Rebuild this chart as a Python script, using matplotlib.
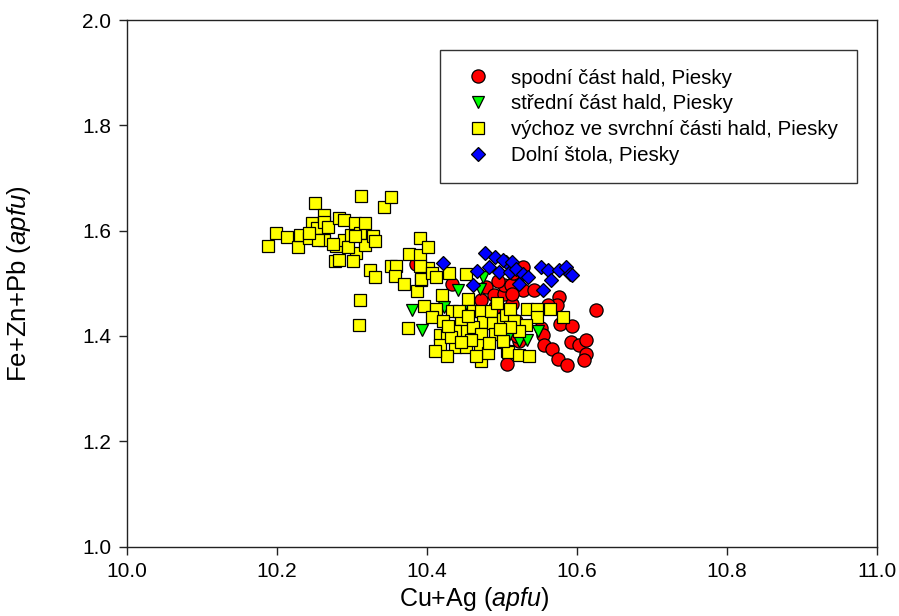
import numpy as np
import matplotlib
matplotlib.use('Agg')
import matplotlib.pyplot as plt

plt.rcParams['font.family'] = ['Liberation Sans', 'DejaVu Sans']
plt.rcParams['mathtext.fontset'] = 'custom'
plt.rcParams['mathtext.rm'] = 'Liberation Sans'
plt.rcParams['mathtext.it'] = 'Liberation Sans:italic'

# spodní část hald (red circles)
red_x = [10.386, 10.434, 10.479, 10.472, 10.489, 10.502, 10.503, 10.507,
         10.528, 10.512, 10.514, 10.528, 10.543, 10.576, 10.573, 10.561,
         10.626, 10.578, 10.593, 10.552, 10.554, 10.556, 10.567, 10.592,
         10.603, 10.612, 10.612, 10.609, 10.574, 10.587, 10.519, 10.523,
         10.495, 10.515, 10.490, 10.514, 10.520]
red_y = [1.536, 1.499, 1.493, 1.468, 1.477, 1.480, 1.496, 1.347,
         1.531, 1.496, 1.461, 1.487, 1.487, 1.473, 1.458, 1.458,
         1.450, 1.423, 1.418, 1.415, 1.401, 1.382, 1.375, 1.388,
         1.382, 1.393, 1.366, 1.354, 1.356, 1.345, 1.429, 1.391,
         1.505, 1.520, 1.455, 1.480, 1.400]

# střední část hald (green triangles)
green_x = [10.380, 10.393, 10.441, 10.423, 10.454, 10.474, 10.472, 10.508,
           10.523, 10.533, 10.548, 10.470]
green_y = [1.450, 1.412, 1.487, 1.455, 1.455, 1.511, 1.415, 1.397,
           1.391, 1.393, 1.410, 1.490]

# výchoz ve svrchní části hald (yellow squares)
yel_x = [10.188, 10.199, 10.213, 10.228, 10.231, 10.242, 10.250, 10.247,
         10.253, 10.263, 10.262, 10.263, 10.268, 10.282, 10.289, 10.279,
         10.277, 10.282, 10.290, 10.298, 10.304, 10.305, 10.301, 10.312,
         10.310, 10.317, 10.317, 10.328, 10.331, 10.324, 10.331, 10.310,
         10.309, 10.343, 10.352, 10.255, 10.275, 10.295, 10.242, 10.304,
         10.352, 10.359, 10.357, 10.369, 10.387, 10.392, 10.376, 10.391,
         10.391, 10.401, 10.401, 10.396, 10.375, 10.391, 10.392, 10.406,
         10.412, 10.430, 10.452,
         10.412, 10.420, 10.434, 10.406, 10.421, 10.417, 10.426, 10.417,
         10.437, 10.426, 10.445, 10.448, 10.437, 10.455, 10.462, 10.472,
         10.474, 10.461, 10.472, 10.452, 10.470, 10.472, 10.485, 10.488,
         10.490, 10.501, 10.501, 10.507, 10.410, 10.432,
         10.505, 10.510, 10.516, 10.533, 10.547, 10.564, 10.547, 10.532,
         10.523, 10.581, 10.510, 10.508, 10.522, 10.536, 10.501,
         10.443, 10.458, 10.481, 10.493, 10.455, 10.428, 10.465, 10.497,
         10.483, 10.446]
yel_y = [1.571, 1.595, 1.587, 1.568, 1.591, 1.586, 1.652, 1.614,
         1.604, 1.630, 1.617, 1.583, 1.607, 1.623, 1.620, 1.571,
         1.543, 1.545, 1.582, 1.592, 1.615, 1.557, 1.543, 1.666,
         1.595, 1.614, 1.572, 1.590, 1.581, 1.525, 1.512, 1.468,
         1.420, 1.644, 1.664, 1.582, 1.575, 1.569, 1.595, 1.589,
         1.532, 1.533, 1.513, 1.499, 1.485, 1.507, 1.555, 1.553,
         1.585, 1.569, 1.529, 1.457, 1.415, 1.532, 1.509, 1.520,
         1.512, 1.520, 1.517,
         1.452, 1.477, 1.448, 1.436, 1.429, 1.401, 1.401, 1.382,
         1.378, 1.361, 1.429, 1.410, 1.410, 1.471, 1.448, 1.448,
         1.426, 1.417, 1.403, 1.378, 1.382, 1.353, 1.447, 1.424,
         1.404, 1.433, 1.388, 1.372, 1.372, 1.397,
         1.439, 1.452, 1.429, 1.452, 1.452, 1.452, 1.435, 1.420,
         1.409, 1.436, 1.417, 1.369, 1.363, 1.361, 1.391,
         1.447, 1.393, 1.368, 1.463, 1.438, 1.418, 1.362, 1.414,
         1.386, 1.389]

# Dolní štola (blue diamonds)
blue_x = [10.421, 10.477, 10.491, 10.483, 10.496, 10.467, 10.461, 10.505,
          10.510, 10.501, 10.514, 10.519, 10.528, 10.534, 10.523, 10.552,
          10.561, 10.565, 10.554, 10.576, 10.585, 10.590, 10.594]
blue_y = [1.539, 1.557, 1.549, 1.531, 1.522, 1.524, 1.496, 1.541,
          1.522, 1.544, 1.541, 1.528, 1.518, 1.512, 1.499, 1.531,
          1.525, 1.506, 1.487, 1.525, 1.530, 1.518, 1.515]

labels = ['spodní část hald, Piesky',
          'střední část hald, Piesky',
          'výchoz ve svrchní části hald, Piesky',
          'Dolní štola, Piesky']

fig = plt.figure(figsize=(8.99, 6.16), dpi=100)
ax = fig.add_axes([127 / 899, 1 - 546.5 / 616, 750 / 899, 526.5 / 616])

ekw = dict(ls='none', markeredgecolor='black', markeredgewidth=0.9)
ax.plot(red_x, red_y, marker='o', ms=9.5, mfc='#FF0000', label=labels[0], **ekw)
ax.plot(green_x, green_y, marker='v', ms=8.5, mfc='#00FF00', label=labels[1], **ekw)
ax.plot(yel_x, yel_y, marker='s', ms=8, mfc='#FFFF00', label=labels[2], **ekw)
ax.plot(blue_x, blue_y, marker='D', ms=7.5, mfc='#0000FF', label=labels[3], **ekw)

ax.set_xlim(10.0, 11.0)
ax.set_ylim(1.0, 2.0)
ax.set_xticks(np.arange(10.0, 11.01, 0.2))
ax.set_yticks(np.arange(1.0, 2.01, 0.2))
ax.xaxis.set_major_formatter(matplotlib.ticker.FormatStrFormatter('%.1f'))
ax.yaxis.set_major_formatter(matplotlib.ticker.FormatStrFormatter('%.1f'))
ax.tick_params(direction='out', length=5.8, width=1, pad=5.5, labelsize=15,
               top=False, right=False, colors='#222222', labelcolor='black')
for s in ax.spines.values():
  s.set_linewidth(1.0)
  s.set_color('#222222')

# axis titles (larger than the tick labels)
ax.set_xlabel(r'Cu+Ag ($\mathit{apfu}$)', fontsize=18)
ax.set_ylabel(r'Fe+Zn+Pb ($\mathit{apfu}$)', fontsize=18.5)
ax.xaxis.set_label_coords(0.462, -0.074)
ax.yaxis.set_label_coords(-0.125, 0.5)

leg = ax.legend(loc='upper left', bbox_to_anchor=(440 / 899, 1 - 50 / 616),
                bbox_transform=fig.transFigure, fontsize=14.8, numpoints=1,
                frameon=True, fancybox=False, framealpha=1, edgecolor='#333333',
                borderpad=0.9, handlelength=1.85, handletextpad=0.72,
                labelspacing=0.33, borderaxespad=0)
leg.get_frame().set_linewidth(1.0)

fig.savefig('out.png', dpi=100)
